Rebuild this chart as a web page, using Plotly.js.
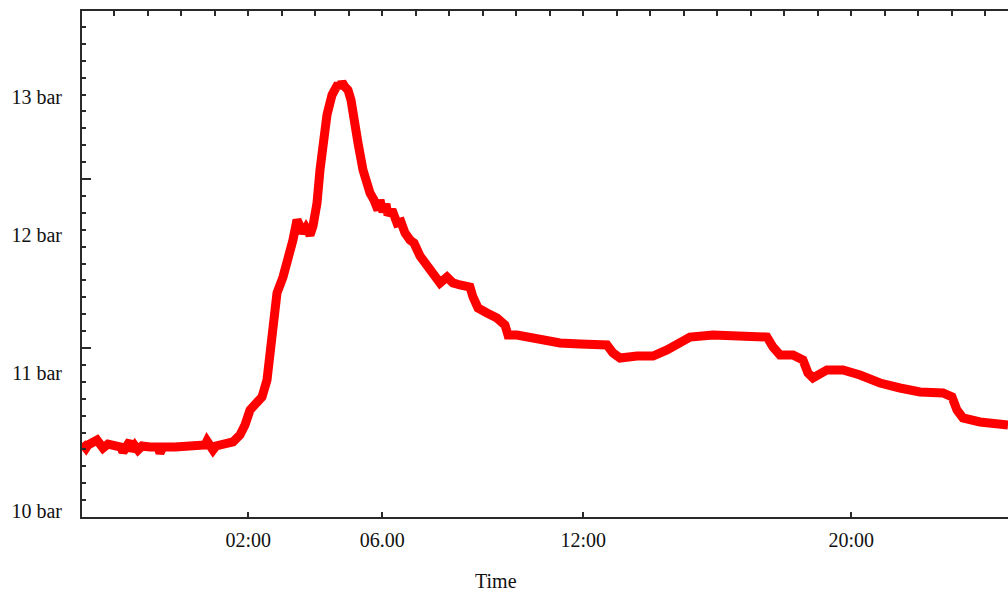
<!DOCTYPE html>
<html>
<head>
<meta charset="utf-8">
<script src="https://cdn.plot.ly/plotly-3.0.1.min.js"></script>
<style>
  html, body { margin: 0; padding: 0; background: #fff; }
  #chart { width: 1008px; height: 594px; }
</style>
</head>
<body>
<div id="chart"></div>
<script>
// Time in hours since midnight (negative = previous evening)
const hours = [
  -2.964, -2.845, -2.785, -2.666, -2.516, -2.427, -2.337, -2.188, -1.979, -1.800,
  -1.740, -1.651, -1.531, -1.472, -1.382, -1.293, -1.173, -0.934, -0.696, -0.636,
  -0.546, -0.188, 0.260, 0.558, 0.707, 0.767, 0.857, 0.946, 1.036, 1.245,
  1.543, 1.752, 1.901, 2.051, 2.200, 2.409, 2.558, 2.648, 2.737, 2.857,
  3.036, 3.185, 3.334, 3.454, 3.543, 3.633, 3.722, 3.842, 3.931, 4.051,
  4.140, 4.230, 4.349, 4.499, 4.588, 4.678, 4.737, 4.797, 4.887, 4.976,
  5.066, 5.125, 5.275, 5.424, 5.543, 5.633, 5.752, 5.872, 5.931, 6.021,
  6.110, 6.170, 6.290, 6.439, 6.558, 6.678, 6.827, 6.946, 7.125, 7.513,
  7.722, 7.931, 8.110, 8.319, 8.618, 8.707, 8.857, 9.125, 9.424, 9.663,
  9.752, 10.021, 10.409, 10.916, 11.304, 11.901, 12.290, 12.707, 12.887, 13.096,
  13.603, 14.081, 14.499, 14.887, 15.185, 15.872, 16.379, 16.887, 17.484, 17.663,
  17.872, 18.260, 18.558, 18.707, 18.857, 19.275, 19.752, 20.260, 20.857, 21.454,
  22.051, 22.737, 23.006, 23.155, 23.334, 23.842, 24.349, 24.678
];
// Pressure in bar
const pressure = [
  10.491, 10.454, 10.476, 10.491, 10.512, 10.483, 10.454, 10.483, 10.476, 10.461,
  10.425, 10.469, 10.505, 10.432, 10.469, 10.440, 10.469, 10.461, 10.461, 10.418,
  10.461, 10.461, 10.461, 10.461, 10.476, 10.505, 10.469, 10.440, 10.469, 10.476,
  10.498, 10.549, 10.621, 10.730, 10.781, 10.825, 10.948, 11.144, 11.384, 11.580,
  11.696, 11.820, 11.965, 12.110, 12.045, 12.016, 12.052, 12.001, 12.066, 12.233,
  12.473, 12.669, 12.873, 13.018, 13.054, 13.098, 13.069, 13.112, 13.076, 13.054,
  12.981, 12.873, 12.669, 12.473, 12.364, 12.306, 12.255, 12.183, 12.255, 12.168,
  12.226, 12.146, 12.183, 12.088, 12.096, 12.016, 11.965, 11.943, 11.849, 11.725,
  11.653, 11.696, 11.653, 11.638, 11.623, 11.551, 11.471, 11.435, 11.398, 11.347,
  11.275, 11.275, 11.253, 11.231, 11.217, 11.210, 11.202, 11.202, 11.144, 11.108,
  11.122, 11.122, 11.166, 11.224, 11.260, 11.275, 11.268, 11.260, 11.260, 11.188,
  11.130, 11.130, 11.093, 10.999, 10.963, 11.021, 11.021, 10.984, 10.926, 10.890,
  10.861, 10.854, 10.825, 10.730, 10.672, 10.643, 10.621, 10.621
];

const yTickVals = [10, 11, 12, 13];
const yTickText = ['10 bar', '11 bar', '12 bar', '13 bar'];
const xTickVals = [2, 6, 12, 20];
const xTickText = ['02:00', '06.00', '12:00', '20:00'];
const xTitle = 'Time';

const xRange = [-2.964, 24.678];
const yRange = [9.953, 13.628];
const axisColor = '#2a2a2a';
const fontFamily = '"Liberation Serif", "Times New Roman", serif';

const traces = [
  {
    x: hours, y: pressure, type: 'scatter', mode: 'lines',
    line: { color: '#ff0000', width: 9 },
    hoverinfo: 'skip', showlegend: false
  },
  {
    x: [], y: [], type: 'scatter', mode: 'lines',
    xaxis: 'x2', yaxis: 'y2', showlegend: false, hoverinfo: 'skip'
  }
];

const layout = {
  width: 1008, height: 594,
  margin: { l: 82, r: 0, t: 11, b: 77, pad: 0 },
  paper_bgcolor: '#ffffff', plot_bgcolor: '#ffffff',
  font: { family: fontFamily, size: 20, color: '#111' },
  showlegend: false,
  xaxis: {
    range: xRange, tickmode: 'array', tickvals: xTickVals, ticktext: xTickText,
    ticks: 'inside', ticklen: 5, tickwidth: 2, tickcolor: axisColor,
    showline: true, linecolor: axisColor, linewidth: 2,
    showgrid: false, zeroline: false,
    tickfont: { family: fontFamily, size: 20, color: '#111' },
    ticklabelstandoff: 4
  },
  xaxis2: {
    overlaying: 'x', side: 'top', anchor: 'y2', range: xRange,
    tickmode: 'linear', tick0: 0, dtick: 1,
    ticks: 'inside', ticklen: 5, tickwidth: 2, tickcolor: axisColor,
    showline: true, linecolor: axisColor, linewidth: 2,
    showgrid: false, zeroline: false, showticklabels: false
  },
  yaxis: {
    range: yRange, tickmode: 'array', tickvals: yTickVals, ticktext: yTickText,
    ticks: '', showline: true, linecolor: axisColor, linewidth: 2,
    showgrid: false, zeroline: false,
    tickfont: { family: fontFamily, size: 20, color: '#111' },
    ticklabelstandoff: 14
  },
  yaxis2: {
    overlaying: 'y', side: 'left', anchor: 'x2', range: yRange,
    tickmode: 'linear', tick0: 9.953, dtick: 1.2273,
    ticks: 'inside', ticklen: 9, tickwidth: 2, tickcolor: axisColor,
    minor: { ticks: 'inside', ticklen: 4, tickwidth: 2, tickcolor: axisColor, tick0: 9.953, dtick: 0.12273 },
    showline: false, showgrid: false, zeroline: false, showticklabels: false
  },
  annotations: [
    {
      text: xTitle, xref: 'x', yref: 'paper', x: 9.394, y: -0.152,
      xanchor: 'center', yanchor: 'bottom', showarrow: false,
      font: { family: fontFamily, size: 20, color: '#111' }
    }
  ]
};

Plotly.newPlot('chart', traces, layout, { staticPlot: true, displayModeBar: false });
</script>
</body>
</html>
